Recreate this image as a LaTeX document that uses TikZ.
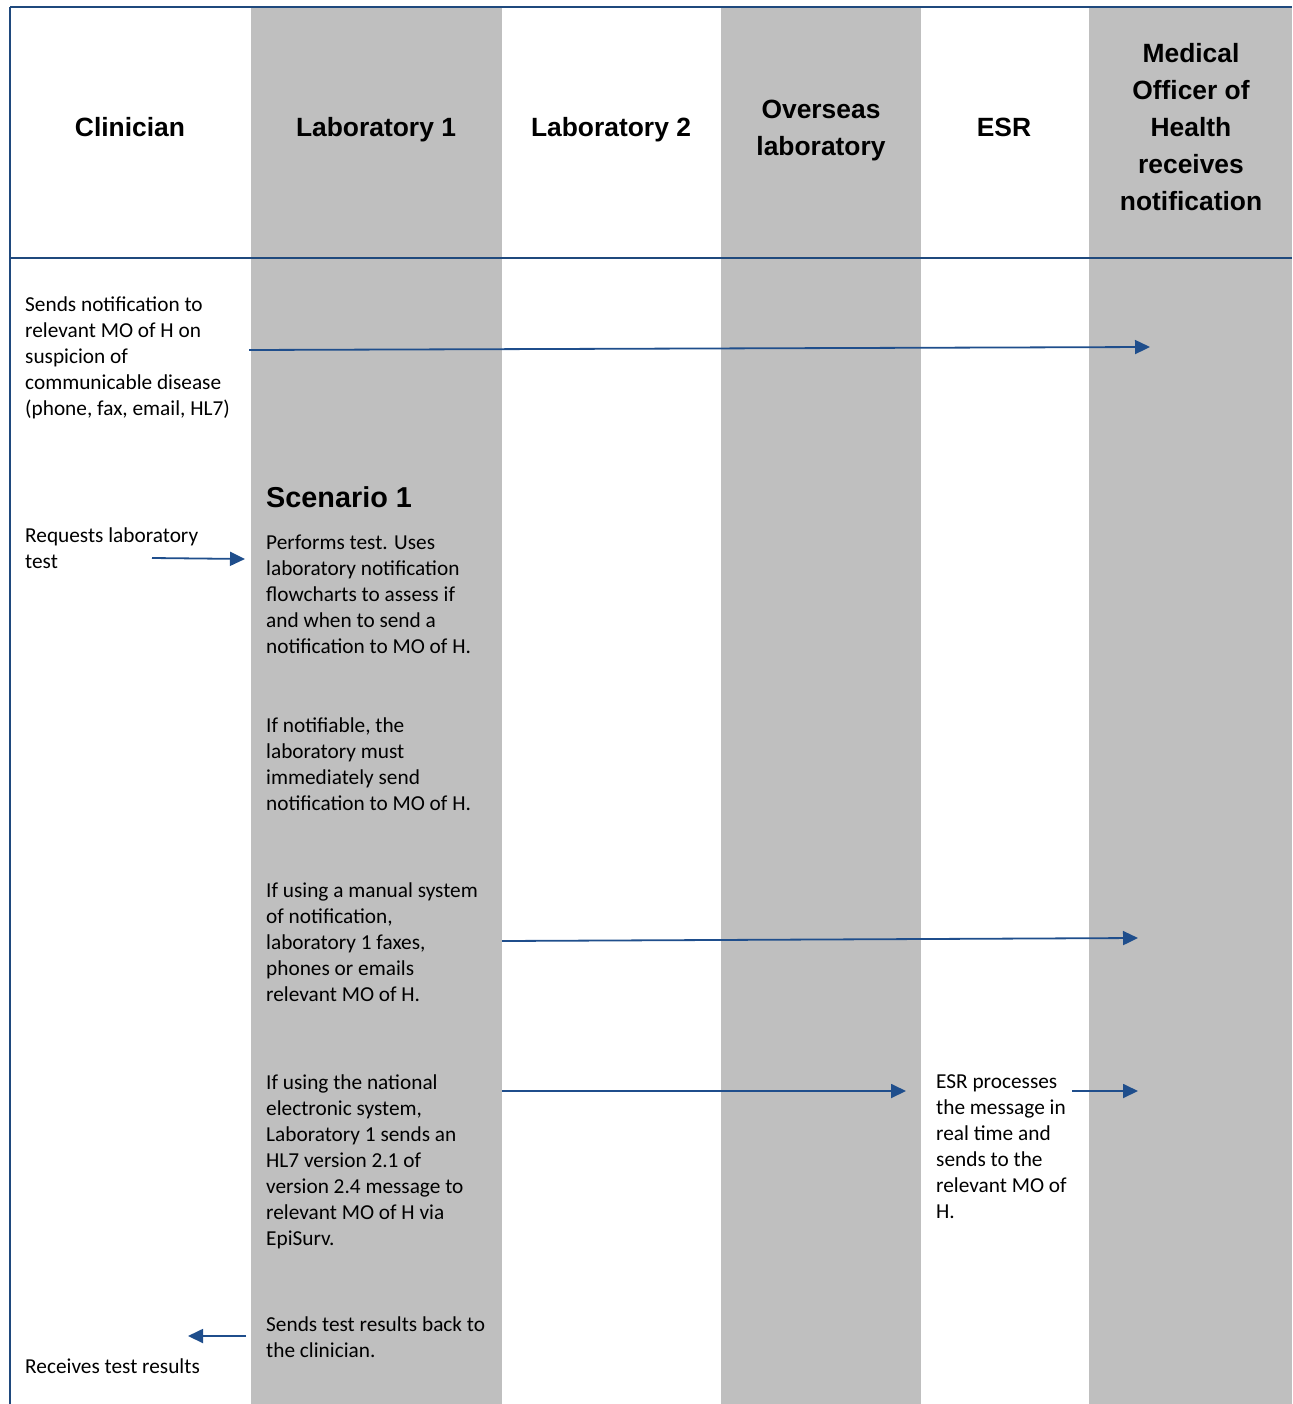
\documentclass[tikz,border=0pt]{standalone}
\usepackage{fontspec}
\setmainfont{Carlito}
\newfontfamily\hdrfont{Liberation Sans}
\usetikzlibrary{arrows.meta}
\definecolor{lanegray}{RGB}{191,191,191}
\definecolor{rulecol}{RGB}{31,73,125}
\definecolor{arrowcol}{RGB}{31,78,140}

\begin{document}
\begin{tikzpicture}[x=1pt,y=-1pt,
  lane/.style={fill=lanegray,draw=none},
  rule/.style={draw=rulecol,line width=1.8pt},
  thinrule/.style={draw=rulecol,line width=1.1pt},
  head/.style={font=\hdrfont\bfseries\fontsize{26.4}{37}\selectfont,align=center,anchor=base,inner sep=0pt},
  body/.style={font=\fontsize{21.3}{26}\selectfont,align=left,anchor=base west,inner sep=0pt},
  flow/.style={draw=arrowcol,line width=1.8pt,-{Triangle[length=15pt,width=14pt]}}]

\useasboundingbox (0,0) rectangle (1292,1404);

% shaded swim lanes
\fill[lane] (251,7) rectangle (502,1404);
\fill[lane] (721,7) rectangle (921,1404);
\fill[lane] (1089,7) rectangle (1292,1404);

% frame rules: thin across the whole width, heavier over the white lanes
\foreach \yy in {7,258} {
  \draw[thinrule] (10,\yy) -- (1292,\yy);
  \draw[rule] (10,\yy) -- (251,\yy);
  \draw[rule] (502,\yy) -- (721,\yy);
  \draw[rule] (921,\yy) -- (1089,\yy);
}
\draw[rule] (10,1404) -- (10,7);

% lane headings (anchored at the baseline of the last line)
\node[head] (hClin) at (130,137) {Clinician};
\node[head] (hLab1) at (376,137) {Laboratory 1};
\node[head] (hLab2) at (611,137) {Laboratory 2};
\node[head] (hOver) at (821,156) {Overseas\\laboratory};
\node[head] (hESR)  at (1004,137) {ESR};
\node[head] (hMOH)  at (1191,211) {Medical\\Officer of\\Health\\receives\\notification};

% clinician lane
\node[body] (cSend) at (25,415) {Sends notification to\\relevant MO of H on\\suspicion of\\communicable disease\\(phone, fax, email, HL7)};
\node[body] (cReq) at (25,568) {Requests laboratory\\test};
\node[body] (cRec) at (25,1373) {Receives test results};

% laboratory 1 lane
\node[body,font=\hdrfont\bfseries\fontsize{28.8}{34}\selectfont] (scen) at (266,507) {Scenario 1};
\node[body] (lPerf) at (266,653) {Performs test. Uses\\laboratory notification\\flowcharts to assess if\\and when to send a\\notification to MO of H.};
\node[body] (lNotif) at (266,810) {If notifiable, the\\laboratory must\\immediately send\\notification to MO of H.};
\node[body] (lMan) at (266,1001) {If using a manual system\\of notification,\\laboratory 1 faxes,\\phones or emails\\relevant MO of H.};
\node[body] (lNat) at (266,1245) {If using the national\\electronic system,\\Laboratory 1 sends an\\HL7 version 2.1 of\\version 2.4 message to\\relevant MO of H via\\EpiSurv.};
\node[body] (lBack) at (266,1357) {Sends test results back to\\the clinician.};

% ESR lane
\node[body] (eProc) at (936,1218) {ESR processes\\the message in\\real time and\\sends to the\\relevant MO of\\H.};

% arrow end points
\coordinate (a1s) at (249,350);  \coordinate (a1e) at (1150,347);
\coordinate (a2s) at (152,558);  \coordinate (a2e) at (245,559);
\coordinate (a3s) at (502,941);  \coordinate (a3e) at (1138,938);
\coordinate (a4s) at (502,1091); \coordinate (a4e) at (906,1091);
\coordinate (a5s) at (1072,1091);\coordinate (a5e) at (1138,1091);
\coordinate (a6s) at (246,1336); \coordinate (a6e) at (188,1336);

\draw[flow] (a1s) -- (a1e);
\draw[flow] (a2s) -- (a2e);
\draw[flow] (a3s) -- (a3e);
\draw[flow] (a4s) -- (a4e);
\draw[flow] (a5s) -- (a5e);
\draw[flow] (a6s) -- (a6e);
\end{tikzpicture}
\end{document}
